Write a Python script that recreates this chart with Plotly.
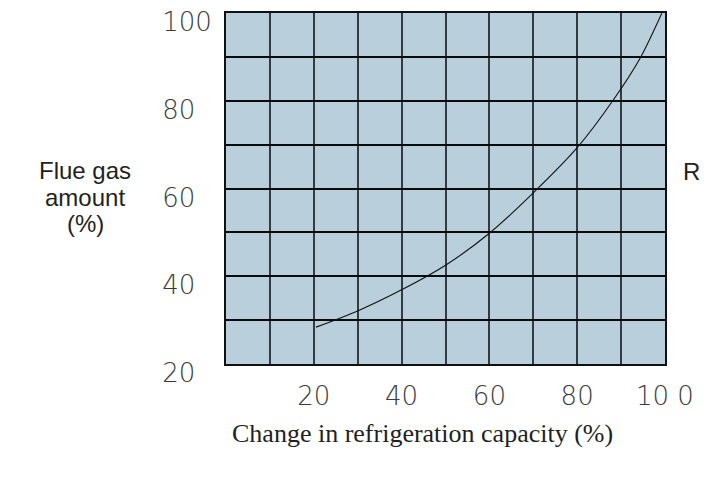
import plotly.graph_objects as go

capacity = [20.5, 30, 40, 50, 60, 70, 80, 88.1, 94.5, 99.3]
flue_gas = [28.4, 32.1, 36.9, 42.5, 49.8, 59.0, 69.3, 80.0, 90.0, 100.0]

x_tickvals = [0, 10, 20, 30, 40, 50, 60, 70, 80, 90, 100]
x_ticktext = ["", "", "20", "", "40", "", "60", "", "80", "", "10 0"]
y_tickvals = [20, 30, 40, 50, 60, 70, 80, 90, 100]
y_ticktext = ["20\u2007", "", "40\u2007", "", "60\u2007", "", "80\u2007", "", "100"]

OFF = 8  # page body margin
L, R, T, B = 226 - OFF, 708 - 665 + OFF, 13 - OFF, 477 - 364 + OFF

fig = go.Figure()
fig.add_trace(go.Scatter(x=capacity, y=flue_gas, mode="lines",
                         line=dict(color="#111111", width=1.1, shape="spline", smoothing=0.8),
                         hoverinfo="skip", showlegend=False))

tickfont = dict(family="DejaVu Sans", size=26, color="#3a3a3a", weight=200)

fig.update_layout(
    width=708, height=477,
    margin=dict(l=L, r=R, t=T, b=B, autoexpand=False),
    paper_bgcolor="white",
    plot_bgcolor="#b9cfdb",
    showlegend=False,
    xaxis=dict(range=[-0.01, 100.01], tickvals=x_tickvals, ticktext=x_ticktext,
               showgrid=True, gridcolor="#333a40", gridwidth=1.5,
               showline=True, linecolor="#111111", linewidth=2, mirror=True,
               zeroline=False, ticks="", ticklabelstandoff=8, tickfont=tickfont,
               automargin=False),
    yaxis=dict(range=[19.99, 100.01], tickvals=y_tickvals, ticktext=y_ticktext,
               showgrid=True, gridcolor="#0a0a0a", gridwidth=2.2,
               showline=True, linecolor="#111111", linewidth=2, mirror=True,
               zeroline=False, ticks="", ticklabelstandoff=7, tickfont=tickfont,
               ticklabelshift=9, ticklabeloverflow="allow", automargin=False),
)

lab = dict(family="Liberation Sans", size=24, color="#231f20")
ann_px = [
    ("Flue gas", 85, 170, lab, "center"),
    ("amount", 85, 197, lab, "center"),
    ("(%)", 85, 224, lab, "center"),
    ("R", 681, 172, lab, "left"),
    ("Change in refrigeration capacity (%)", 422, 433,
     dict(family="Liberation Serif", size=26, color="#231f20"), "center"),
]

pw = 708 - L - R
ph = 477 - T - B
for text, px, py, font, xa in ann_px:
    fx = px - OFF
    fy = py - OFF
    fig.add_annotation(text=text, x=(fx - L) / pw, y=(477 - B - fy) / ph,
                       xref="paper", yref="paper", xanchor=xa, yanchor="middle",
                       showarrow=False, font=font)

fig.write_html("out.html")
